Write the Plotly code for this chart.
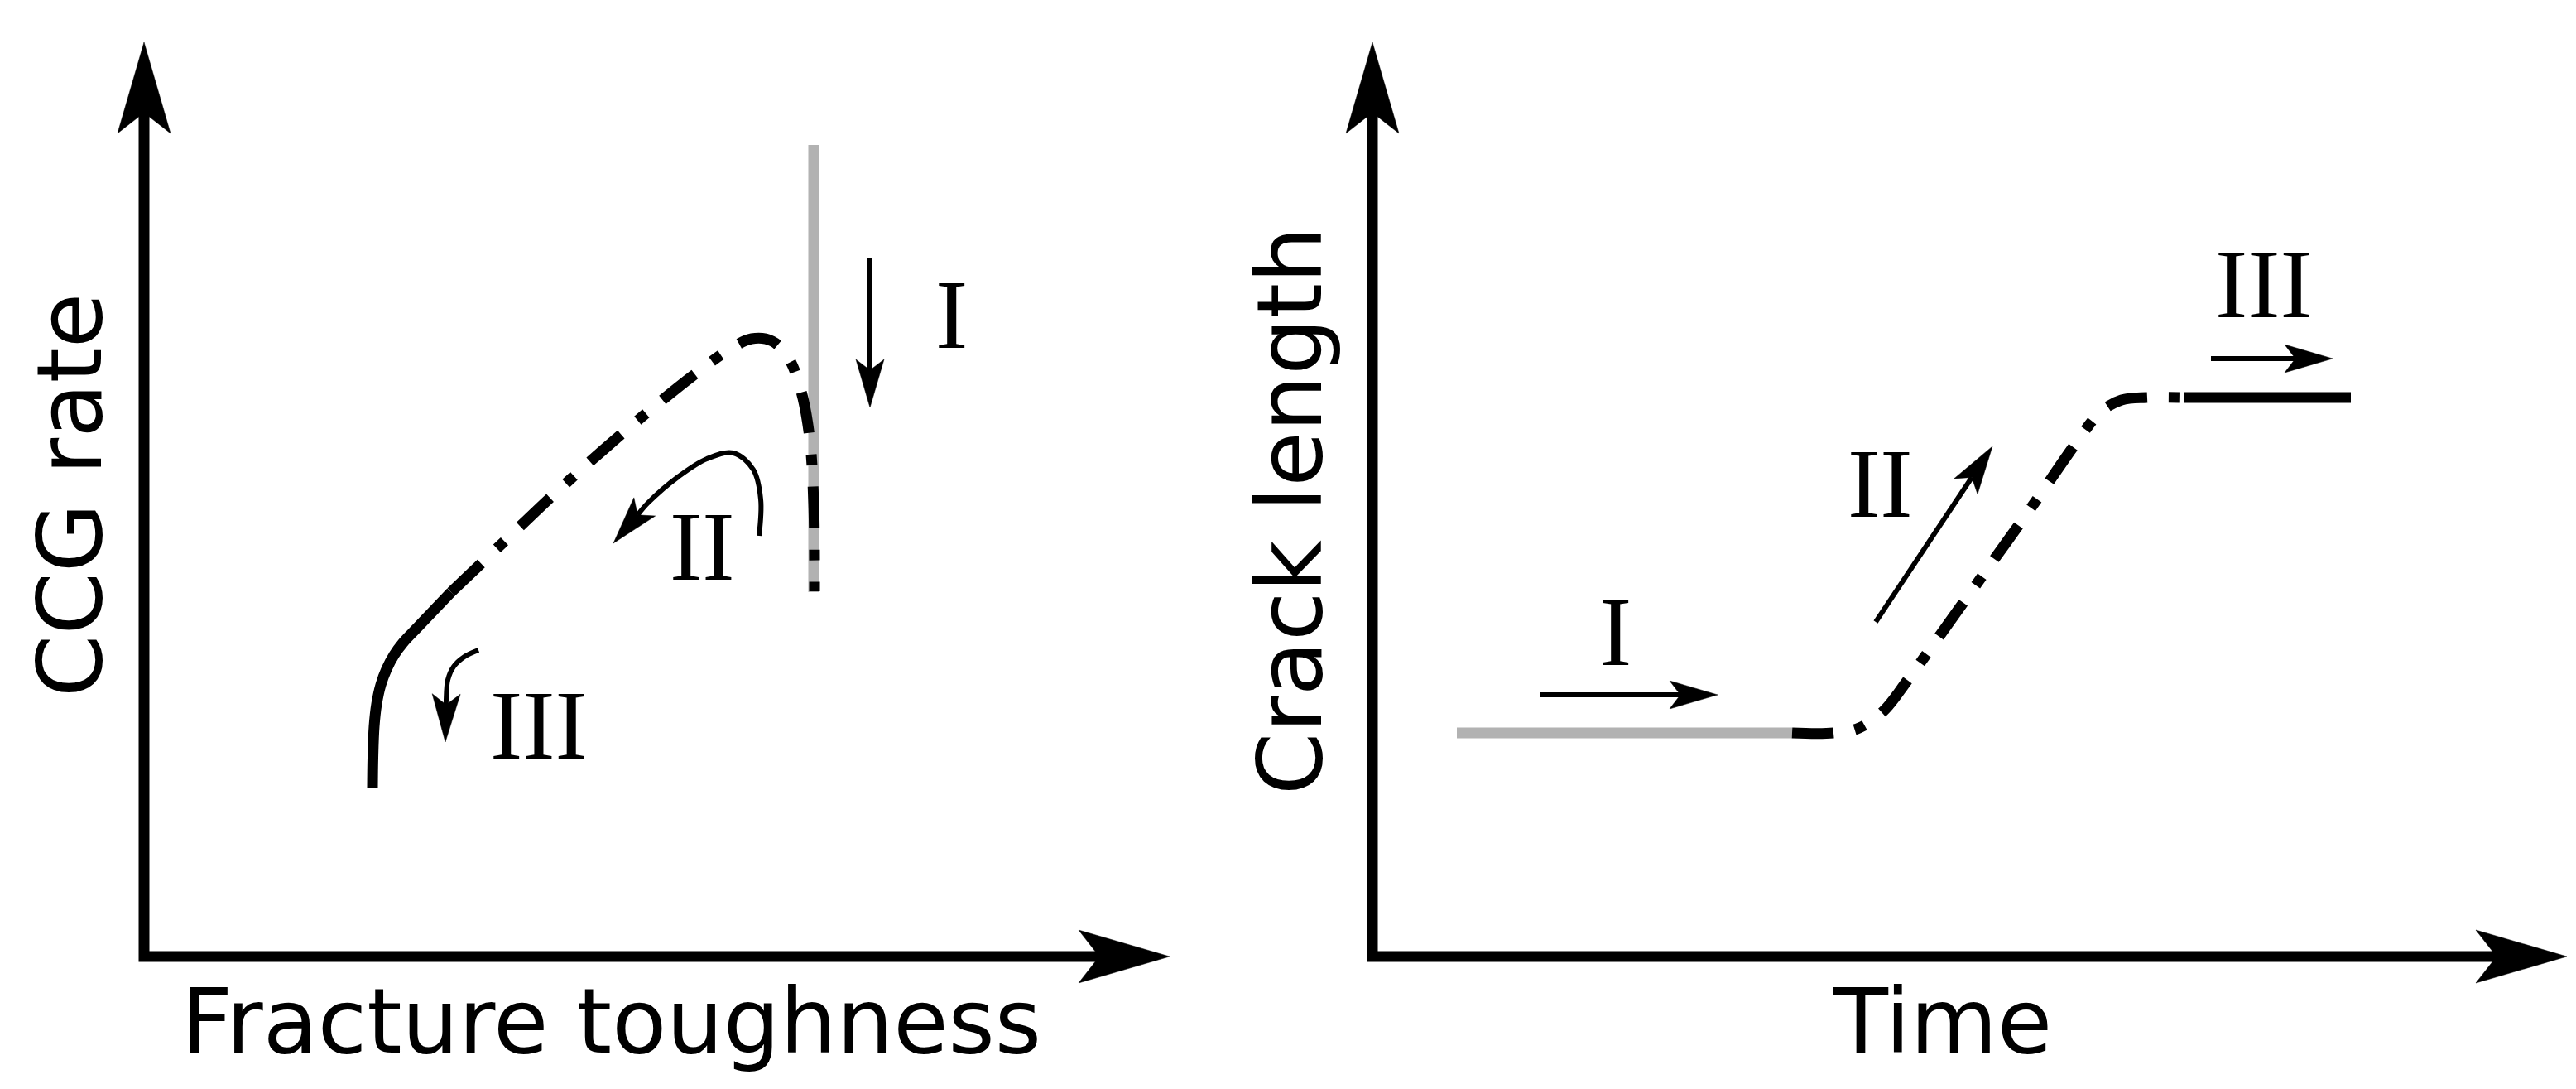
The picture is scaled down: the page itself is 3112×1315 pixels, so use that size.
import math

import plotly.graph_objects as go
from plotly.subplots import make_subplots

W, H = 3112, 1315

# ---------------- left panel: CCG rate vs fracture toughness ----------------
ccg_solid_x = [2.76, 2.765, 2.78, 2.81, 2.86, 2.93, 3.02, 3.13, 3.30, 3.50, 3.71]
ccg_solid_y = [2.04, 2.40, 2.78, 3.05, 3.28, 3.47, 3.64, 3.79, 3.97, 4.18, 4.40]
ccg_dashdot_x = [3.71, 4.34, 4.94, 5.54, 6.14, 6.64, 7.04, 7.34, 7.59, 7.79, 7.94, 8.04, 8.09, 8.10]
ccg_dashdot_y = [4.40, 5.00, 5.57, 6.11, 6.62, 7.02, 7.31, 7.46, 7.43, 7.22, 6.82, 6.27, 5.47, 4.41]
ccg_gray_x = [8.09, 8.09]
ccg_gray_y = [9.80, 4.40]

ccg_arrow_I = ([8.77, 8.77], [8.44, 6.63])
ccg_arrow_II = ([7.43, 7.45, 7.36, 7.12, 6.80, 6.45, 6.09, 5.67],
                [5.08, 5.52, 5.88, 6.08, 6.01, 5.79, 5.48, 4.99])
ccg_arrow_III = ([4.04, 3.87, 3.74, 3.67, 3.65, 3.64],
                 [3.70, 3.62, 3.50, 3.34, 3.10, 2.59])
ccg_labels = ["I", "II", "III"]
ccg_label_x = [9.75, 6.74, 4.77]
ccg_label_y = [7.75, 4.95, 2.79]

# ---------------- right panel: crack length vs time ----------------
crack_gray_x = [1.02, 5.07]
crack_gray_y = [2.70, 2.70]
crack_dashdot_x = [5.07, 5.57, 5.88, 6.18, 6.46, 7.00, 7.50, 8.00, 8.50, 8.80, 9.05, 9.35, 9.80]
crack_dashdot_y = [2.70, 2.70, 2.76, 2.97, 3.33, 4.08, 4.78, 5.48, 6.20, 6.58, 6.72, 6.75, 6.75]
crack_solid_x = [9.80, 11.82]
crack_solid_y = [6.75, 6.75]

crack_arrow_I = ([2.03, 4.17], [3.16, 3.16])
crack_arrow_II = ([6.08, 7.49], [4.04, 6.16])
crack_arrow_III = ([10.13, 11.60], [7.22, 7.22])
crack_labels = ["I", "II", "III"]
crack_label_x = [2.93, 6.13, 10.77]
crack_label_y = [3.92, 5.71, 8.12]

# axis arrow tips (data units, origin at the corner)
left_axis_tip = (12.39, 11.04)
right_axis_tip = (14.43, 11.04)

# ---------------- styles ----------------
BLACK = "#000000"
GRAY = "#b2b2b2"
THICK = 13
THIN = 6
DASHDOT = "50px,26px,13px,26px"
TITLE_FONT = dict(family="DejaVu Sans, Verdana, sans-serif", size=108, color=BLACK)
ROMAN_FONT = dict(family="Liberation Serif, Times New Roman, serif", size=118, color=BLACK)
AXIS_HEAD = dict(length=1.10, half_w=0.32, notch=0.85)
THIN_HEAD = dict(length=0.58, half_w=0.17, notch=0.45)


def _head(tip_x, tip_y, from_x, from_y, length, half_w, notch):
    dx, dy = tip_x - from_x, tip_y - from_y
    n = math.hypot(dx, dy)
    ux, uy = dx / n, dy / n
    px, py = -uy, ux
    bx, by = tip_x - ux * length, tip_y - uy * length
    nx, ny = tip_x - ux * notch, tip_y - uy * notch
    xs = [tip_x, bx + px * half_w, nx, bx - px * half_w, tip_x]
    ys = [tip_y, by + py * half_w, ny, by - py * half_w, tip_y]
    return xs, ys, (nx, ny)


def add_line(fig, xs, ys, col, width=THICK, color=BLACK, dash="solid", spline=False):
    fig.add_trace(
        go.Scatter(
            x=xs, y=ys, mode="lines",
            line={"color": color, "width": width, "dash": dash,
                  "shape": "spline" if spline else "linear"},
            hoverinfo="skip", showlegend=False,
        ),
        row=1, col=col,
    )


def add_head(fig, xs, ys, col):
    fig.add_trace(
        go.Scatter(
            x=xs, y=ys, mode="lines", fill="toself", fillcolor=BLACK,
            line={"color": BLACK, "width": 0.5},
            hoverinfo="skip", showlegend=False,
        ),
        row=1, col=col,
    )


def add_arrow(fig, path, col, head=THIN_HEAD, width=THIN):
    xs, ys = list(path[0]), list(path[1])
    hx, hy, notch_pt = _head(xs[-1], ys[-1], xs[-2], ys[-2], **head)
    shaft_x = xs[:-1] + [notch_pt[0]]
    shaft_y = ys[:-1] + [notch_pt[1]]
    add_line(fig, shaft_x, shaft_y, col, width=width, spline=len(xs) > 2)
    add_head(fig, hx, hy, col)


def add_axes(fig, tip, col):
    tx, ty = tip
    yx, yy, ynotch = _head(0, ty, 0, 0, **AXIS_HEAD)
    xx, xy, xnotch = _head(tx, 0, 0, 0, **AXIS_HEAD)
    add_line(fig, [ynotch[0], 0, xnotch[0]], [ynotch[1], 0, xnotch[1]], col)
    add_head(fig, yx, yy, col)
    add_head(fig, xx, xy, col)


fig = make_subplots(rows=1, cols=2)

# left panel
add_axes(fig, left_axis_tip, 1)
add_line(fig, ccg_gray_x, ccg_gray_y, 1, color=GRAY)
add_line(fig, ccg_solid_x, ccg_solid_y, 1, spline=True)
add_line(fig, ccg_dashdot_x, ccg_dashdot_y, 1, dash=DASHDOT, spline=True)
for path in (ccg_arrow_I, ccg_arrow_II, ccg_arrow_III):
    add_arrow(fig, path, 1)

# right panel
add_axes(fig, right_axis_tip, 2)
add_line(fig, crack_gray_x, crack_gray_y, 2, color=GRAY)
add_line(fig, crack_dashdot_x, crack_dashdot_y, 2, dash=DASHDOT, spline=True)
add_line(fig, crack_solid_x, crack_solid_y, 2)
for path in (crack_arrow_I, crack_arrow_II, crack_arrow_III):
    add_arrow(fig, path, 2)

annotations = []
for text, x, y in zip(ccg_labels, ccg_label_x, ccg_label_y):
    annotations.append(dict(text=text, x=x, y=y, xref="x", yref="y", showarrow=False, font=ROMAN_FONT))
for text, x, y in zip(crack_labels, crack_label_x, crack_label_y):
    annotations.append(dict(text=text, x=x, y=y, xref="x2", yref="y2", showarrow=False, font=ROMAN_FONT))

annotations += [
    dict(text="CCG rate", x=-0.90, y=5.57, xref="x", yref="y", textangle=-90, showarrow=False, font=TITLE_FONT),
    dict(text="Fracture toughness", x=5.64, y=-0.78, xref="x", yref="y", showarrow=False, font=TITLE_FONT),
    dict(text="Crack length", x=-1.00, y=5.38, xref="x2", yref="y2", textangle=-90, showarrow=False, font=TITLE_FONT),
    dict(text="Time", x=6.88, y=-0.78, xref="x2", yref="y2", showarrow=False, font=TITLE_FONT),
]


# pixel geometry: 100 px per data unit, corner of each panel at (166, 1147) / (1650, 1147)
def _xdom(px0, px1):
    return [px0 / W, px1 / W]


def _ydom(py_bottom, py_top):
    return [1 - py_bottom / H, 1 - py_top / H]


axis_common = dict(visible=False, fixedrange=True)
fig.update_layout(
    width=W, height=H,
    margin=dict(l=0, r=0, t=0, b=0),
    paper_bgcolor="white", plot_bgcolor="white",
    showlegend=False,
    annotations=annotations,
    xaxis=dict(domain=_xdom(20, 1450), range=[(20 - 166) / 100, (1450 - 166) / 100], **axis_common),
    yaxis=dict(domain=_ydom(1300, 15), range=[(1147 - 1300) / 100, (1147 - 15) / 100], **axis_common),
    xaxis2=dict(domain=_xdom(1460, 3112), range=[(1460 - 1650) / 100, (3112 - 1650) / 100], **axis_common),
    yaxis2=dict(domain=_ydom(1300, 15), range=[(1147 - 1300) / 100, (1147 - 15) / 100], **axis_common),
)

fig.write_html("out.html")
